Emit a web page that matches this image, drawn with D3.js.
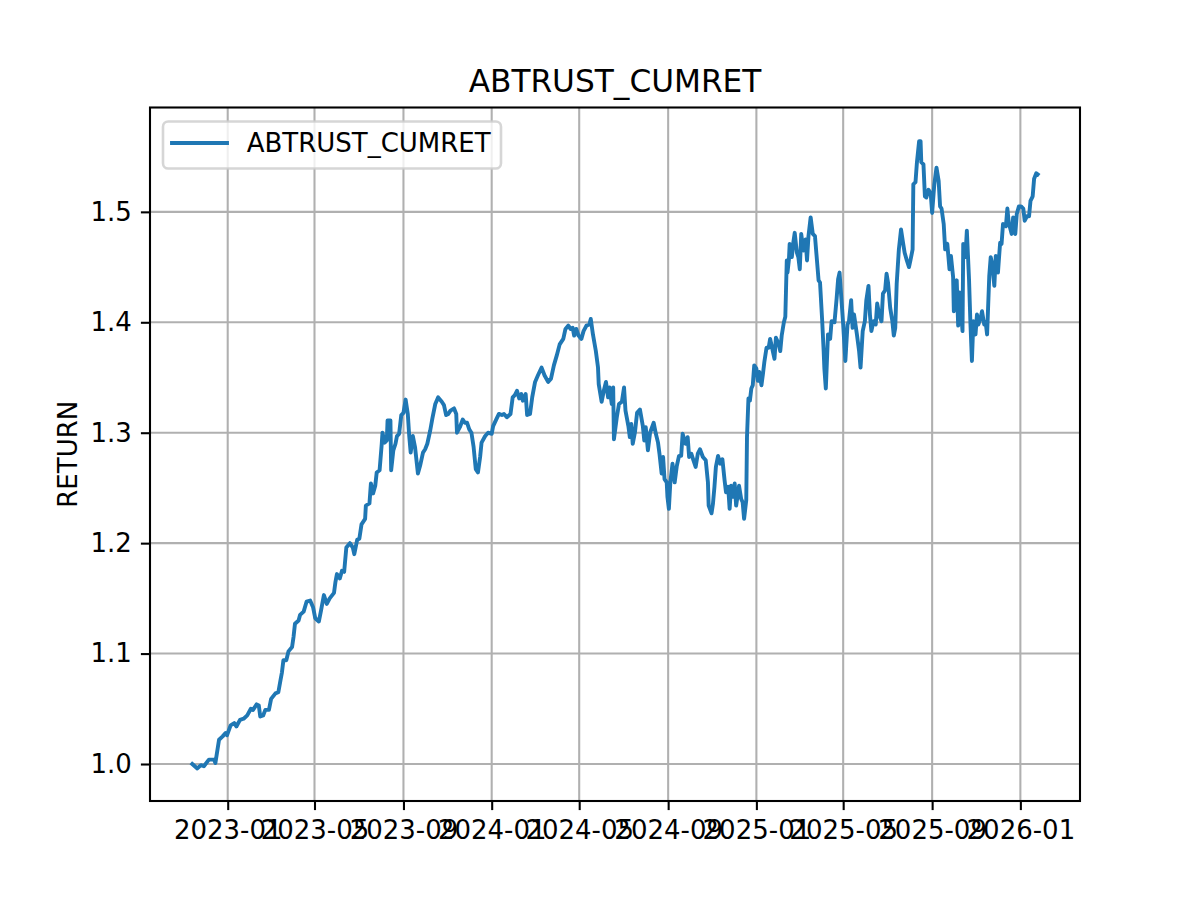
<!DOCTYPE html>
<html><head><meta charset="utf-8">
<script src="https://cdn.jsdelivr.net/npm/d3@7"></script>
<style>
body{margin:0;background:#fff}
svg{display:block}
text{font-family:"DejaVu Sans",sans-serif;fill:#000}
</style>
</head><body>
<svg id="c" width="1200" height="900"></svg>
<script>
const seriesName = "ABTRUST_CUMRET";
const yLabel = "RETURN";
const dates = [
"2022-11-13","2022-11-20","2022-11-25","2022-11-29","2022-12-06","2022-12-13","2022-12-15","2022-12-20","2022-12-25","2022-12-29","2022-12-31",
"2023-01-05","2023-01-10","2023-01-13","2023-01-18","2023-01-23","2023-01-28","2023-02-02","2023-02-05","2023-02-10","2023-02-13","2023-02-15","2023-02-19","2023-02-22","2023-02-27",
"2023-03-02","2023-03-08","2023-03-12","2023-03-15","2023-03-17","2023-03-19","2023-03-23","2023-03-26","2023-03-31","2023-04-02","2023-04-04","2023-04-09","2023-04-11","2023-04-16","2023-04-20","2023-04-25","2023-04-29",
"2023-05-02","2023-05-07","2023-05-10","2023-05-14","2023-05-18","2023-05-22","2023-05-28","2023-05-30","2023-06-01","2023-06-05","2023-06-08","2023-06-11","2023-06-14","2023-06-19","2023-06-23","2023-06-25","2023-06-29",
"2023-07-02","2023-07-05","2023-07-10","2023-07-11","2023-07-16","2023-07-18","2023-07-21","2023-07-24","2023-07-26","2023-07-30","2023-08-02","2023-08-03","2023-08-06","2023-08-09","2023-08-10","2023-08-14","2023-08-15","2023-08-18","2023-08-21","2023-08-23","2023-08-26","2023-08-29",
"2023-09-01","2023-09-04","2023-09-07","2023-09-09","2023-09-11","2023-09-14","2023-09-17","2023-09-21","2023-09-24","2023-09-28","2023-10-01","2023-10-04","2023-10-08","2023-10-11","2023-10-15","2023-10-19","2023-10-24","2023-10-27","2023-10-30",
"2023-11-02","2023-11-05","2023-11-10","2023-11-13","2023-11-14","2023-11-18","2023-11-22","2023-11-25","2023-11-28","2023-12-01","2023-12-04","2023-12-07","2023-12-10","2023-12-13","2023-12-16","2023-12-18","2023-12-23","2023-12-27",
"2024-01-01","2024-01-03","2024-01-08","2024-01-11","2024-01-15","2024-01-18","2024-01-22","2024-01-27","2024-01-30","2024-02-02","2024-02-05","2024-02-08","2024-02-11","2024-02-13","2024-02-17","2024-02-19","2024-02-23","2024-02-26",
"2024-03-01","2024-03-05","2024-03-10","2024-03-14","2024-03-19","2024-03-23","2024-03-27","2024-03-31","2024-04-04","2024-04-09","2024-04-12","2024-04-16","2024-04-19","2024-04-22","2024-04-24","2024-04-27","2024-04-30",
"2024-05-04","2024-05-07","2024-05-11","2024-05-15","2024-05-17","2024-05-20","2024-05-24","2024-05-27","2024-05-28","2024-06-01","2024-06-04","2024-06-07","2024-06-10","2024-06-12","2024-06-15","2024-06-17","2024-06-18","2024-06-22","2024-06-25","2024-06-29",
"2024-07-02","2024-07-04","2024-07-08","2024-07-10","2024-07-12","2024-07-14","2024-07-17","2024-07-20","2024-07-24","2024-07-28","2024-07-30","2024-08-01","2024-08-04","2024-08-07","2024-08-12","2024-08-15","2024-08-18","2024-08-20","2024-08-23","2024-08-25","2024-08-27","2024-08-30","2024-08-31",
"2024-09-02","2024-09-04","2024-09-07","2024-09-10","2024-09-13","2024-09-16","2024-09-19","2024-09-21","2024-09-25","2024-09-28","2024-09-30","2024-10-03","2024-10-06","2024-10-09","2024-10-12","2024-10-15","2024-10-19","2024-10-23","2024-10-26","2024-10-27","2024-10-31",
"2024-11-02","2024-11-04","2024-11-06","2024-11-09","2024-11-12","2024-11-15","2024-11-18","2024-11-20","2024-11-23","2024-11-25","2024-11-27","2024-11-30","2024-12-02","2024-12-04","2024-12-08","2024-12-11","2024-12-13","2024-12-15","2024-12-18","2024-12-19","2024-12-21","2024-12-23","2024-12-25","2024-12-27","2024-12-29",
"2025-01-01","2025-01-03","2025-01-05","2025-01-08","2025-01-10","2025-01-12","2025-01-15","2025-01-18","2025-01-20","2025-01-23","2025-01-26","2025-01-28","2025-02-01","2025-02-03","2025-02-05","2025-02-08","2025-02-10","2025-02-12","2025-02-13","2025-02-15","2025-02-16","2025-02-19","2025-02-21","2025-02-23","2025-02-26","2025-02-28",
"2025-03-02","2025-03-04","2025-03-07","2025-03-10","2025-03-12","2025-03-14","2025-03-17","2025-03-20","2025-03-23","2025-03-25","2025-03-28","2025-03-30","2025-04-02","2025-04-04","2025-04-05","2025-04-07","2025-04-10","2025-04-13","2025-04-15","2025-04-19","2025-04-22","2025-04-24","2025-04-26","2025-04-29",
"2025-05-01","2025-05-04","2025-05-07","2025-05-09","2025-05-12","2025-05-14","2025-05-16","2025-05-20","2025-05-23","2025-05-25","2025-05-28","2025-05-31","2025-06-02","2025-06-05","2025-06-07","2025-06-09","2025-06-12","2025-06-15","2025-06-17","2025-06-20","2025-06-23","2025-06-25","2025-06-28","2025-06-30",
"2025-07-02","2025-07-05","2025-07-08","2025-07-10","2025-07-12","2025-07-14","2025-07-17","2025-07-20","2025-07-23","2025-07-25","2025-07-28","2025-07-31","2025-08-02","2025-08-05","2025-08-06","2025-08-09","2025-08-11","2025-08-14","2025-08-16","2025-08-17","2025-08-20","2025-08-22","2025-08-24","2025-08-27","2025-08-30",
"2025-09-01","2025-09-04","2025-09-07","2025-09-10","2025-09-12","2025-09-14","2025-09-17","2025-09-19","2025-09-22","2025-09-25","2025-09-27","2025-09-30","2025-10-01","2025-10-05","2025-10-07","2025-10-09","2025-10-13","2025-10-14","2025-10-17","2025-10-19","2025-10-22","2025-10-24","2025-10-26","2025-10-28","2025-10-31",
"2025-11-02","2025-11-04","2025-11-07","2025-11-09","2025-11-12","2025-11-14","2025-11-16","2025-11-19","2025-11-21","2025-11-23","2025-11-26","2025-11-28","2025-12-01","2025-12-04","2025-12-06","2025-12-08","2025-12-12","2025-12-14","2025-12-16","2025-12-20","2025-12-22","2025-12-25","2025-12-27","2025-12-30",
"2026-01-02","2026-01-05","2026-01-07","2026-01-10","2026-01-13","2026-01-15","2026-01-18","2026-01-20","2026-01-23","2026-01-25"
];
const values = [
1.000,0.996,0.999,0.998,1.004,1.004,1.001,1.022,1.025,1.028,1.026,
1.035,1.037,1.034,1.040,1.041,1.044,1.050,1.049,1.054,1.053,1.043,1.044,1.049,1.049,
1.059,1.064,1.065,1.076,1.083,1.094,1.094,1.102,1.106,1.115,1.127,1.130,1.135,1.138,1.147,1.148,1.142,
1.132,1.129,1.139,1.153,1.145,1.150,1.155,1.165,1.172,1.168,1.175,1.174,1.196,1.200,1.196,1.190,1.203,
1.204,1.217,1.222,1.234,1.236,1.254,1.245,1.252,1.264,1.266,1.290,1.300,1.291,1.293,1.311,1.311,1.266,1.284,1.290,1.297,1.299,1.316,
1.318,1.330,1.317,1.297,1.282,1.297,1.287,1.263,1.270,1.282,1.285,1.290,1.302,1.313,1.326,1.332,1.328,1.325,1.316,
1.317,1.320,1.322,1.317,1.300,1.305,1.312,1.309,1.309,1.303,1.300,1.287,1.267,1.264,1.278,1.291,1.297,1.300,
1.299,1.306,1.313,1.317,1.316,1.317,1.314,1.317,1.332,1.334,1.338,1.331,1.335,1.329,1.335,1.316,1.317,1.332,
1.346,1.352,1.359,1.352,1.346,1.349,1.361,1.370,1.380,1.385,1.394,1.397,1.394,1.395,1.388,1.394,1.388,
1.385,1.392,1.397,1.398,1.403,1.389,1.374,1.359,1.344,1.328,1.338,1.346,1.332,1.341,1.326,1.341,1.294,1.314,1.326,1.328,
1.341,1.320,1.306,1.296,1.308,1.290,1.300,1.318,1.321,1.306,1.293,1.305,1.284,1.300,1.309,1.299,1.291,1.281,1.263,1.278,1.258,1.255,1.242,
1.231,1.255,1.272,1.255,1.270,1.279,1.279,1.299,1.290,1.296,1.278,1.281,1.275,1.269,1.281,1.285,1.278,1.275,1.255,1.234,1.227,
1.236,1.251,1.269,1.279,1.272,1.276,1.257,1.246,1.251,1.231,1.252,1.242,1.254,1.234,1.252,1.240,1.237,1.222,1.239,1.296,1.331,1.329,1.340,1.343,1.361,
1.358,1.347,1.355,1.343,1.353,1.364,1.377,1.377,1.385,1.376,1.367,1.386,1.380,1.374,1.388,1.400,1.405,1.456,1.445,1.457,1.471,1.459,1.472,1.481,1.463,1.459,
1.448,1.480,1.465,1.475,1.456,1.478,1.495,1.480,1.478,1.462,1.438,1.436,1.401,1.374,1.358,1.340,1.389,1.385,1.401,1.400,1.422,1.439,1.445,1.417,
1.398,1.365,1.398,1.401,1.420,1.395,1.407,1.389,1.374,1.359,1.392,1.401,1.420,1.433,1.407,1.392,1.401,1.398,1.417,1.406,1.401,1.426,1.429,1.444,
1.436,1.413,1.401,1.388,1.395,1.435,1.466,1.484,1.471,1.463,1.456,1.450,1.456,1.466,1.525,1.527,1.545,1.564,1.564,1.545,1.543,1.514,1.513,1.520,1.517,
1.499,1.525,1.540,1.528,1.505,1.503,1.489,1.466,1.471,1.448,1.460,1.441,1.410,1.438,1.397,1.427,1.392,1.471,1.459,1.483,1.439,1.398,1.365,1.401,1.389,
1.407,1.398,1.404,1.410,1.398,1.400,1.389,1.442,1.459,1.453,1.433,1.460,1.445,1.472,1.471,1.489,1.487,1.503,1.490,1.480,1.495,1.480,1.498,1.505,
1.505,1.503,1.492,1.496,1.496,1.510,1.514,1.530,1.535,1.534
];
const xTickLabels = ["2023-01","2023-05","2023-09","2024-01","2024-05","2024-09","2025-01","2025-05","2025-09","2026-01"];
const yTicks = [1.0,1.1,1.2,1.3,1.4,1.5];
const yLimits = [0.9665, 1.5945];

const L=150, R=1080, T=107.5, B=801;
const lw = 3.9, thin = 2.08, tickLen = 9.1, fs = 26;
const color = "#1f77b4";

const svg = d3.select("#c");
const parse = d3.timeParse("%Y-%m-%d");
const parseM = d3.timeParse("%Y-%m");
const data = dates.map((d,i)=>({t:parse(d), v:values[i]}));
const ext = d3.extent(data, d=>d.t);
const pad = (ext[1]-ext[0])*0.05;
const x = d3.scaleTime().domain([new Date(+ext[0]-pad), new Date(+ext[1]+pad)]).range([L,R]);
const y = d3.scaleLinear().domain(yLimits).range([B,T]);
const xTicks = xTickLabels.map(parseM);

// grid
const grid = svg.append("g");
grid.selectAll("line.gx").data(xTicks).join("line")
  .attr("x1",d=>x(d)).attr("x2",d=>x(d)).attr("y1",T).attr("y2",B)
  .attr("stroke","#b0b0b0").attr("stroke-width",thin);
grid.selectAll("line.gy").data(yTicks).join("line")
  .attr("x1",L).attr("x2",R).attr("y1",d=>y(d)).attr("y2",d=>y(d))
  .attr("stroke","#b0b0b0").attr("stroke-width",thin);

// line
const line = d3.line().x(d=>x(d.t)).y(d=>y(d.v));
svg.append("path").datum(data).attr("d",line)
  .attr("fill","none").attr("stroke",color).attr("stroke-width",lw)
  .attr("stroke-linejoin","round").attr("stroke-linecap","square");

// axes
const fmt = d3.timeFormat("%Y-%m");
const gx = svg.append("g").attr("transform",`translate(0,${B})`)
  .call(d3.axisBottom(x).tickValues(xTicks).tickFormat(fmt).tickSize(tickLen).tickPadding(tickLen));
const gy = svg.append("g").attr("transform",`translate(${L},0)`)
  .call(d3.axisLeft(y).tickValues(yTicks).tickFormat(d3.format(".1f")).tickSize(tickLen).tickPadding(tickLen));
[gx,gy].forEach(g=>{
  g.select(".domain").remove();
  g.selectAll(".tick line").attr("stroke","#000").attr("stroke-width",thin);
  g.selectAll(".tick text").attr("font-size",fs).attr("font-family","DejaVu Sans").attr("fill","#000");
});
gx.selectAll(".tick text").attr("dy","0.76em");

// spines
svg.append("rect").attr("x",L).attr("y",T).attr("width",R-L).attr("height",B-T)
  .attr("fill","none").attr("stroke","#000").attr("stroke-width",thin);

// title & labels
svg.append("text").attr("x",(L+R)/2).attr("y",92.3).attr("text-anchor","middle")
  .attr("font-size",31.2).text(seriesName);
svg.append("text").attr("transform",`translate(77,${(T+B)/2}) rotate(-90)`)
  .attr("text-anchor","middle").attr("font-size",fs).text(yLabel);

// legend
const lg = svg.append("g");
lg.append("rect").attr("x",163).attr("y",121.5).attr("width",338).attr("height",47)
  .attr("rx",5.2).attr("fill","#fff").attr("fill-opacity",0.8)
  .attr("stroke","#cccccc").attr("stroke-opacity",0.8).attr("stroke-width",2.6);
lg.append("line").attr("x1",172).attr("x2",227).attr("y1",143).attr("y2",143)
  .attr("stroke",color).attr("stroke-width",lw).attr("stroke-linecap","square");
lg.append("text").attr("x",246.7).attr("y",152).attr("font-size",fs).text(seriesName);
</script>
</body></html>
